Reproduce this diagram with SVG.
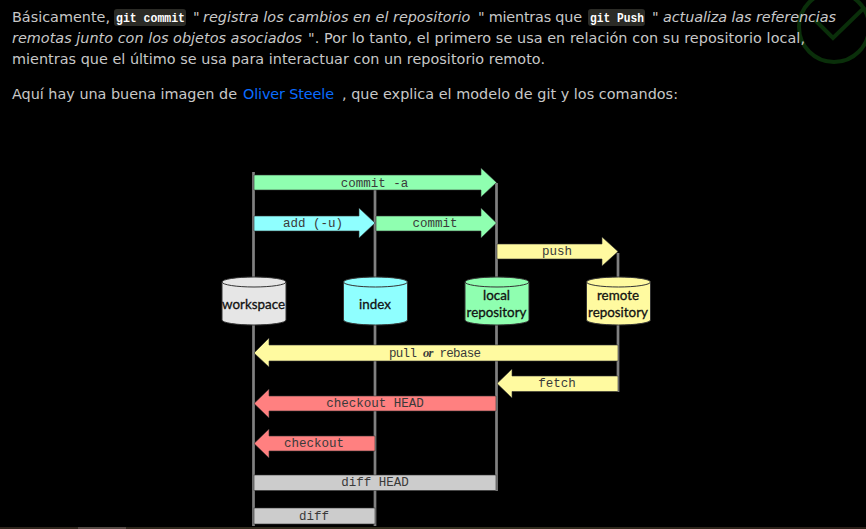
<svg xmlns="http://www.w3.org/2000/svg" width="866" height="529" viewBox="0 0 866 529">
<defs>
<linearGradient id="strip" x1="0" x2="1" y1="0" y2="0"><stop offset="0" stop-color="#2e241c"/><stop offset=".5" stop-color="#33301f"/><stop offset="1" stop-color="#2a1e18"/></linearGradient>
<style>
.p{font-family:"DejaVu Sans",Verdana,sans-serif;font-size:14.4px;fill:#c8c8c8}
.i{font-style:italic}
.a{fill:#0a6cff}
.c{font-family:"Liberation Mono","DejaVu Sans Mono",monospace;font-size:12.4px;font-weight:bold;fill:#fff}
.cb{fill:#2b2b26}
.l{stroke:#808080;stroke-width:2.7;fill:none}
.m{font-family:"Liberation Mono",monospace;font-size:12.5px;fill:#3a3a3a;text-anchor:middle}
.n{font-family:"Lato","Liberation Sans",sans-serif;font-size:13.4px;fill:#111;stroke:#111;stroke-width:.3;text-anchor:middle}
.ar{stroke:#333;stroke-width:.6}
.g{fill:#8fffb0}.b{fill:#8fffff}.y{fill:#fffaa0}.r{fill:#ff8080}.k{fill:#cccccc}.w{fill:#e6e6e6}
.cy{stroke:#333;stroke-width:1}
</style>
</defs>
<rect width="866" height="529" fill="#000"/>
<rect y="527" width="866" height="2" fill="url(#strip)"/>
<rect x="78" y="527" width="48" height="2" fill="#554a44"/>
<g id="badge" fill="none" stroke="#0a2f0a" stroke-width="4"><circle cx="834" cy="27" r="35"/><path d="M815 20L833 38L865 7"/></g>
<g id="text">
<rect class="cb" x="114" y="9" width="72" height="17" rx="3"/>
<rect class="cb" x="588" y="9" width="57" height="17" rx="3"/>
<text class="p" x="12" y="22">Básicamente,</text>
<text class="c" x="116" y="22" textLength="69" lengthAdjust="spacingAndGlyphs">git commit</text>
<text class="p" x="193" y="22">"</text>
<text class="p i" x="203" y="22">registra los cambios en el repositorio</text>
<text class="p" x="478" y="22" textLength="104">" mientras que</text>
<text class="c" x="590" y="22" textLength="54" lengthAdjust="spacingAndGlyphs">git Push</text>
<text class="p" x="652" y="22">"</text>
<text class="p i" x="663" y="22" textLength="173">actualiza las referencias</text>
<text class="p i" x="12" y="43" textLength="290">remotas junto con los objetos asociados</text>
<text class="p" x="308" y="43" textLength="497">". Por lo tanto, el primero se usa en relación con su repositorio local,</text>
<text class="p" x="12" y="64" textLength="533">mientras que el último se usa para interactuar con un repositorio remoto.</text>
<text class="p" x="12" y="99" textLength="225">Aquí hay una buena imagen de</text>
<text class="p a" x="243" y="99" textLength="91">Oliver Steele</text>
<text class="p" x="342" y="99" textLength="336">, que explica el modelo de git y los comandos:</text>
</g>
<g id="connectors">
<path class="l" d="M253.500 172V526M375 190V526M496.500 183V491M618 253V392"/>
<g id="commit-a"><path class="g ar" d="M254 175H481V168L496.500 182.500L481 197V190H254Z"/><text class="m" x="374.500" y="187">commit -a</text></g>
<g id="add"><path class="b ar" d="M254 216H359V208L375 223L359 238V231H254Z"/><text class="m" x="313" y="227">add (-u)</text></g>
<g id="commit"><path class="g ar" d="M376 216H481V208L496.500 223L481 238V231H376Z"/><text class="m" x="435" y="227">commit</text></g>
<g id="push"><path class="y ar" d="M497 244H602V237L618 251.500L602 266V259H497Z"/><text class="m" x="557" y="255">push</text></g>
<g id="pull"><path class="y ar" d="M618 345H269V338L254 353L269 367V361H618Z"/><text class="m" x="435" y="357" textLength="92">pull <tspan font-family="Liberation Serif" font-style="italic" font-weight="bold">or</tspan> rebase</text></g>
<g id="fetch"><path class="y ar" d="M618 376H512V369L497 383.500L512 398V391.500H618Z"/><text class="m" x="557" y="387">fetch</text></g>
<g id="checkout-head"><path class="r ar" d="M496 396H269V389L254 403.500L269 418V411H496Z"/><text class="m" x="375" y="407">checkout HEAD</text></g>
<g id="checkout"><path class="r ar" d="M375 436H269V429L254 443.500L269 458V451H375Z"/><text class="m" x="314" y="447">checkout</text></g>
<g id="diff-head"><rect class="k ar" x="254" y="475" width="242" height="15.500"/><text class="m" x="375" y="486">diff HEAD</text></g>
<g id="diff"><rect class="k ar" x="254" y="508" width="121" height="16"/><text class="m" x="314" y="520">diff</text></g>
</g>
<g id="workspace"><path class="w cy" d="M222 282V320A32 5 0 0 0 286 320V282A32 5 0 0 0 222 282Z"/><path class="cy" fill="none" d="M222 282A32 5 0 0 0 286 282"/><text class="n" x="253.500" y="309">workspace</text></g>
<g id="index"><path class="b cy" d="M343.500 282V320A32 5 0 0 0 407.500 320V282A32 5 0 0 0 343.500 282Z"/><path class="cy" fill="none" d="M343.500 282A32 5 0 0 0 407.500 282"/><text class="n" x="375" y="309">index</text></g>
<g id="local"><path class="g cy" d="M465 282V320A32 5 0 0 0 529 320V282A32 5 0 0 0 465 282Z"/><path class="cy" fill="none" d="M465 282A32 5 0 0 0 529 282"/><text class="n" x="496.500" y="300">local</text><text class="n" x="496.500" y="317">repository</text></g>
<g id="remote"><path class="y cy" d="M586.500 282V320A32 5 0 0 0 650.500 320V282A32 5 0 0 0 586.500 282Z"/><path class="cy" fill="none" d="M586.500 282A32 5 0 0 0 650.500 282"/><text class="n" x="618" y="300">remote</text><text class="n" x="618" y="317">repository</text></g>
</svg>
